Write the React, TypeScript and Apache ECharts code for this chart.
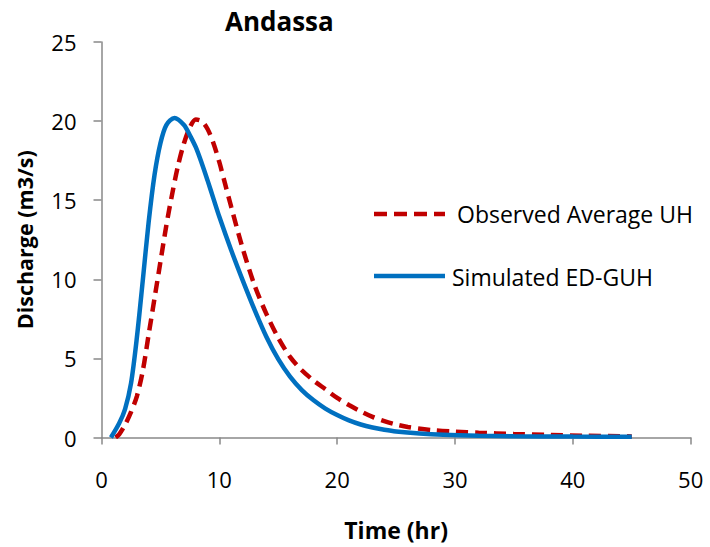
import React, { useEffect, useRef } from "react";
import * as echarts from "echarts";

const titleText = "Andassa";
const xName = "Time (hr)";
const yName = "Discharge (m3/s)";
const observedName = "Observed Average UH";
const simulatedName = "Simulated ED-GUH";

const observedX = [1.2, 1.5, 2, 2.5, 3, 3.5, 4, 4.5, 5, 5.5, 6, 6.5, 7, 7.5, 8, 8.5, 9, 9.5, 10, 10.5, 11, 12, 13, 14, 15, 16, 17, 18, 19, 20, 21, 22, 23, 24, 25, 26, 28, 30, 32, 35, 38, 41, 45];
const observedY = [0, 0.2, 0.8, 1.6, 2.6, 4.2, 6.5, 8.8, 11.1, 13.4, 15.4, 17.2, 18.6, 19.6, 20.1, 20.0, 19.5, 18.6, 17.4, 16.0, 14.6, 11.9, 9.6, 7.8, 6.3, 5.1, 4.25, 3.6, 3.05, 2.5, 2.05, 1.65, 1.3, 1.03, 0.82, 0.66, 0.47, 0.37, 0.3, 0.22, 0.16, 0.11, 0.07];

const simulatedX = [0.8, 1.5, 2, 2.5, 3, 3.5, 4, 4.5, 5, 5.5, 6.2, 7, 7.5, 8, 8.5, 9, 9.5, 10, 11, 12, 13, 14, 15, 16, 17, 18, 19, 20, 21, 22, 23, 24, 25, 27, 29, 32, 35, 40, 45];
const simulatedY = [0, 0.9, 1.8, 3.4, 6.3, 9.9, 13.6, 16.6, 18.6, 19.75, 20.2, 19.75, 19.1, 18.35, 17.35, 16.25, 15.1, 13.95, 11.85, 9.9, 8.05, 6.35, 4.95, 3.85, 3.0, 2.35, 1.83, 1.42, 1.08, 0.82, 0.63, 0.49, 0.38, 0.25, 0.17, 0.11, 0.08, 0.06, 0.05];

const FONT = "'Open Sans', sans-serif";
const RED = "#C00000";
const BLUE = "#0070C0";
const DASH = [12, 7];

export default function App() {
  const ref = useRef<HTMLDivElement>(null);
  useEffect(() => {
    if (!ref.current) return;
    const chart = echarts.init(ref.current, null, { renderer: "svg" });
    const axisColor = "#898989";
    chart.setOption({
      animation: false,
      backgroundColor: "#ffffff",
      title: {
        text: titleText,
        left: 220,
        top: 3,
        textStyle: { fontFamily: FONT, fontWeight: "bold", fontSize: 26, color: "#000" },
      },
      graphic: [
        {
          type: "line",
          shape: { x1: 374, y1: 214, x2: 445, y2: 214 },
          style: { stroke: RED, lineWidth: 4.5, lineDash: [13, 7] },
        },
        {
          type: "text",
          x: 457,
          y: 214,
          style: { text: observedName, font: `23px ${FONT}`, fill: "#000", verticalAlign: "middle", align: "left" },
        },
        {
          type: "line",
          shape: { x1: 374, y1: 276, x2: 445, y2: 276 },
          style: { stroke: BLUE, lineWidth: 4.5 },
        },
        {
          type: "text",
          x: 452,
          y: 277,
          style: { text: simulatedName, font: `23px ${FONT}`, fill: "#000", verticalAlign: "middle", align: "left" },
        },
      ],
      grid: { left: 101.5, right: 19.3, top: 42, bottom: 109.5, containLabel: false },
      xAxis: {
        type: "value",
        min: 0,
        max: 50,
        interval: 10,
        name: xName,
        nameLocation: "middle",
        nameGap: 81,
        nameTextStyle: { fontFamily: FONT, fontWeight: "bold", fontSize: 23, color: "#000" },
        axisLine: { show: true, lineStyle: { color: axisColor, width: 1.5 } },
        axisTick: { show: true, length: 7, lineStyle: { color: axisColor, width: 1.5 } },
        axisLabel: { fontFamily: FONT, fontSize: 22, color: "#000", margin: 30 },
        splitLine: { show: false },
      },
      yAxis: {
        type: "value",
        min: 0,
        max: 25,
        interval: 5,
        name: yName,
        nameLocation: "middle",
        nameGap: 66,
        nameTextStyle: { fontFamily: FONT, fontWeight: "bold", fontSize: 21.5, color: "#000" },
        axisLine: { show: true, lineStyle: { color: axisColor, width: 1.5 } },
        axisTick: { show: true, length: 8, lineStyle: { color: axisColor, width: 1.5 } },
        axisLabel: { fontFamily: FONT, fontSize: 22, color: "#000", margin: 25 },
        splitLine: { show: false },
      },
      series: [
        {
          name: observedName,
          type: "line",
          smooth: 0.3,
          symbol: "none",
          data: observedX.map((x, i) => [x, observedY[i]]),
          lineStyle: { color: RED, width: 4.5, type: DASH },
          itemStyle: { color: RED },
          z: 2,
        },
        {
          name: simulatedName,
          type: "line",
          smooth: 0.3,
          symbol: "none",
          data: simulatedX.map((x, i) => [x, simulatedY[i]]),
          lineStyle: { color: BLUE, width: 4.5 },
          itemStyle: { color: BLUE },
          z: 3,
        },
      ],
    });
    return () => chart.dispose();
  }, []);
  return <div ref={ref} style={{ position: "absolute", left: 0, top: 0, width: 710, height: 547 }} />;
}
